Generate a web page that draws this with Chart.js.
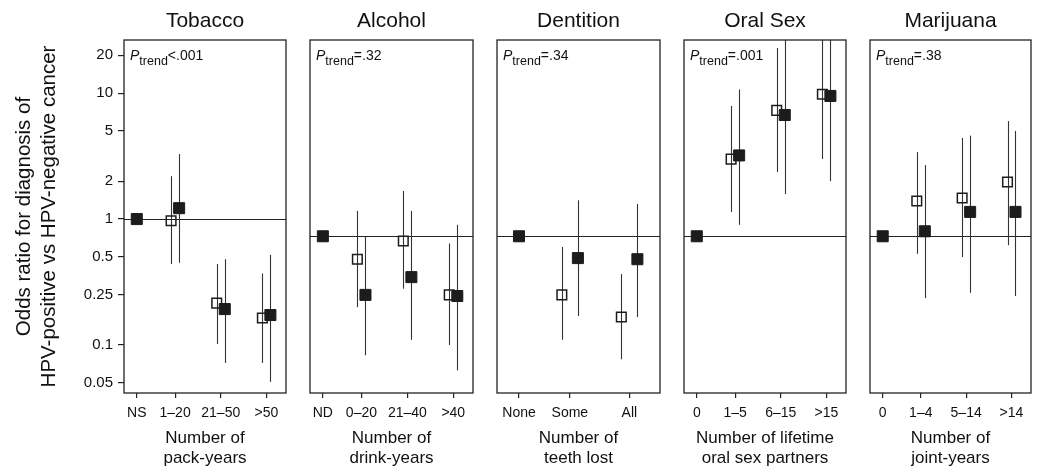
<!DOCTYPE html>
<html>
<head>
<meta charset="utf-8">
<script src="https://cdn.jsdelivr.net/npm/chart.js@4.4.1/dist/chart.umd.min.js"></script>
<style>
  html, body { margin: 0; padding: 0; background: #fff; }
  #wrap { position: relative; width: 1039px; height: 468px; overflow: hidden; }
  .panel { position: absolute; top: 0; height: 468px; }
</style>
</head>
<body>
<div id="wrap"></div>
<script>
// ---- data ----
const titles = ['Tobacco', 'Alcohol', 'Dentition', 'Oral Sex', 'Marijuana'];
const pTrend = ['<.001', '=.32', '=.34', '=.001', '=.38'];
const xTitles = [
  ['Number of', 'pack-years'],
  ['Number of', 'drink-years'],
  ['Number of', 'teeth lost'],
  ['Number of lifetime', 'oral sex partners'],
  ['Number of', 'joint-years']
];
const yTitle = ['Odds ratio for diagnosis of', 'HPV-positive vs HPV-negative cancer'];
const yTicks = [0.05, 0.1, 0.25, 0.5, 1, 2, 5, 10, 20];
const refLine = [1, 0.73, 0.73, 0.73, 0.73];

const tobaccoCats = ['NS', '1–20', '21–50', '>50'];
const tobaccoOpen = [null, 0.97, 0.215, 0.164];
const tobaccoOpenLo = [null, 0.44, 0.102, 0.072];
const tobaccoOpenHi = [null, 2.19, 0.44, 0.37];
const tobaccoFilled = [1, 1.22, 0.193, 0.173];
const tobaccoFilledLo = [null, 0.45, 0.072, 0.051];
const tobaccoFilledHi = [null, 3.28, 0.48, 0.52];

const alcoholCats = ['ND', '0–20', '21–40', '>40'];
const alcoholOpen = [null, 0.48, 0.67, 0.25];
const alcoholOpenLo = [null, 0.20, 0.28, 0.10];
const alcoholOpenHi = [null, 1.16, 1.67, 0.64];
const alcoholFilled = [0.73, 0.25, 0.346, 0.245];
const alcoholFilledLo = [null, 0.083, 0.11, 0.063];
const alcoholFilledHi = [null, 0.72, 1.16, 0.9];

const dentitionCats = ['None', 'Some', 'All'];
const dentitionOpen = [null, 0.25, 0.167];
const dentitionOpenLo = [null, 0.11, 0.077];
const dentitionOpenHi = [null, 0.6, 0.366];
const dentitionFilled = [0.73, 0.49, 0.48];
const dentitionFilledLo = [null, 0.17, 0.167];
const dentitionFilledHi = [null, 1.41, 1.32];

const oralCats = ['0', '1–5', '6–15', '>15'];
const oralOpen = [null, 2.99, 7.3, 9.8];
const oralOpenLo = [null, 1.14, 2.36, 3.0];
const oralOpenHi = [null, 7.9, 22.8, 30];
const oralFilled = [0.73, 3.2, 6.7, 9.5];
const oralFilledLo = [null, 0.9, 1.58, 2.0];
const oralFilledHi = [null, 10.7, 30, 30];

const marijuanaCats = ['0', '1–4', '5–14', '>14'];
const marijuanaOpen = [null, 1.39, 1.47, 1.97];
const marijuanaOpenLo = [null, 0.53, 0.5, 0.62];
const marijuanaOpenHi = [null, 3.4, 4.4, 6.0];
const marijuanaFilled = [0.73, 0.8, 1.14, 1.14];
const marijuanaFilledLo = [null, 0.236, 0.26, 0.245];
const marijuanaFilledHi = [null, 2.68, 4.6, 5.0];

// ---- layout ----
const boxLeft = [124, 310, 497, 684, 870];
const boxRight = [286, 473, 660, 846, 1031];
const slots4 = [0, 0.84, 1.84, 2.84];
const slots3 = [0, 0.855, 1.855];

const FONT = '"Liberation Sans", Arial, sans-serif';
Chart.defaults.font.family = FONT;
Chart.defaults.color = '#111';

const panels = [
  [tobaccoCats, tobaccoOpen, tobaccoOpenLo, tobaccoOpenHi, tobaccoFilled, tobaccoFilledLo, tobaccoFilledHi],
  [alcoholCats, alcoholOpen, alcoholOpenLo, alcoholOpenHi, alcoholFilled, alcoholFilledLo, alcoholFilledHi],
  [dentitionCats, dentitionOpen, dentitionOpenLo, dentitionOpenHi, dentitionFilled, dentitionFilledLo, dentitionFilledHi],
  [oralCats, oralOpen, oralOpenLo, oralOpenHi, oralFilled, oralFilledLo, oralFilledHi],
  [marijuanaCats, marijuanaOpen, marijuanaOpenLo, marijuanaOpenHi, marijuanaFilled, marijuanaFilledLo, marijuanaFilledHi]
];

// error bars, reference line, box and P-trend label
const panelDecor = {
  id: 'panelDecor',
  beforeDatasetsDraw(chart, args, opts) {
    const {ctx, chartArea: {left, right, top, bottom}, scales: {x, y}} = chart;
    ctx.save();
    ctx.beginPath();
    ctx.rect(left, top, right - left, bottom - top);
    ctx.clip();
    ctx.strokeStyle = '#222';
    ctx.lineWidth = 1.2;
    const yr = Math.round(y.getPixelForValue(opts.ref)) + 0.5;
    ctx.beginPath();
    ctx.moveTo(left, yr);
    ctx.lineTo(right, yr);
    ctx.stroke();

    ctx.strokeStyle = '#333';
    ctx.lineWidth = 1.1;
    chart.data.datasets.forEach(ds => {
      ds.data.forEach(pt => {
        if (pt.lo == null) return;
        const px = Math.round(x.getPixelForValue(pt.x)) + 0.5;
        ctx.beginPath();
        ctx.moveTo(px, y.getPixelForValue(pt.hi));
        ctx.lineTo(px, y.getPixelForValue(pt.lo));
        ctx.stroke();
      });
    });
    ctx.restore();
  },
  afterDraw(chart, args, opts) {
    const {ctx, chartArea: {left, right, top, bottom}} = chart;
    ctx.save();
    ctx.strokeStyle = '#222';
    ctx.lineWidth = 1.3;
    ctx.strokeRect(left, top, right - left, bottom - top);

    ctx.fillStyle = '#111';
    ctx.textBaseline = 'alphabetic';
    ctx.textAlign = 'left';
    let tx = left + 6;
    const ty = top + 20;
    ctx.font = 'italic 14px ' + FONT;
    ctx.fillText('P', tx, ty);
    tx += ctx.measureText('P').width;
    ctx.font = '12.5px ' + FONT;
    ctx.fillText('trend', tx, ty + 5);
    tx += ctx.measureText('trend').width;
    ctx.font = '14px ' + FONT;
    ctx.fillText(opts.p, tx, ty);
    ctx.restore();
  }
};

const wrap = document.getElementById('wrap');

panels.forEach((p, i) => {
  const [cats, open, openLo, openHi, filled, filledLo, filledHi] = p;
  const slots = cats.length === 3 ? slots3 : slots4;
  const xr = cats.length === 3 ? [-0.37, 2.37] : [-0.28, 3.27];
  const shift = cats.length === 3 ? 0.135 : 0.088;

  const openPts = [];
  const filledPts = [];
  cats.forEach((c, k) => {
    if (open[k] != null) openPts.push({x: slots[k] - shift, y: open[k], lo: openLo[k], hi: openHi[k]});
    if (filled[k] != null) filledPts.push({x: k === 0 ? slots[k] : slots[k] + shift, y: filled[k], lo: filledLo[k], hi: filledHi[k]});
  });

  const cLeft = i === 0 ? 0 : boxLeft[i] - 2;
  const div = document.createElement('div');
  div.className = 'panel';
  div.style.left = cLeft + 'px';
  div.style.width = (boxRight[i] + 2 - cLeft) + 'px';
  const canvas = document.createElement('canvas');
  div.appendChild(canvas);
  wrap.appendChild(div);

  new Chart(canvas, {
    type: 'scatter',
    data: {
      datasets: [
        {
          label: 'open',
          data: openPts,
          pointStyle: 'rect',
          pointRadius: 6.8,
          backgroundColor: 'rgba(0,0,0,0)',
          borderColor: '#1c1c1c',
          borderWidth: 1.5
        },
        {
          label: 'filled',
          data: filledPts,
          pointStyle: 'rect',
          pointRadius: 7.8,
          backgroundColor: '#1c1c1c',
          borderColor: '#1c1c1c',
          borderWidth: 1
        }
      ]
    },
    options: {
      responsive: true,
      maintainAspectRatio: false,
      animation: false,
      layout: { autoPadding: false, padding: { left: i === 0 ? 0 : 2, right: 2, top: 0, bottom: 0 } },
      plugins: {
        legend: { display: false },
        tooltip: { enabled: false },
        title: {
          display: true,
          text: titles[i],
          fullSize: false,
          font: { size: 21, weight: 'normal' },
          color: '#111',
          padding: { top: 9, bottom: 5.8 }
        },
        panelDecor: { ref: refLine[i], p: pTrend[i] }
      },
      scales: {
        x: {
          type: 'linear',
          min: xr[0],
          max: xr[1],
          afterBuildTicks: s => { s.ticks = slots.map(v => ({value: v})); },
          afterFit: s => { s.height = 75; s.paddingLeft = 0; s.paddingRight = 0; },
          ticks: { callback: (v, k) => cats[k], font: { size: 14 }, color: '#111', padding: 7, maxRotation: 0, autoSkip: false },
          grid: { display: true, drawOnChartArea: false, drawTicks: true, tickLength: 5, color: '#222', lineWidth: 1.2 },
          border: { display: false },
          title: { display: true, text: xTitles[i], font: { size: 17, lineHeight: 1.18 }, color: '#111', padding: { top: 0, bottom: 0 } }
        },
        y: {
          type: 'logarithmic',
          display: i === 0,
          min: 0.0416,
          max: 26.4,
          afterBuildTicks: s => { s.ticks = yTicks.map(v => ({value: v})); },
          afterFit: s => { s.width = i === 0 ? 124 : 0; s.paddingTop = 0; s.paddingBottom = 0; },
          ticks: { callback: v => String(v), font: { size: 15 }, color: '#111', padding: 5, autoSkip: false },
          grid: { display: true, drawOnChartArea: false, drawTicks: true, tickLength: 6, color: '#222', lineWidth: 1.2 },
          border: { display: false },
          title: { display: true, text: yTitle, font: { size: 20.5, lineHeight: 1.22 }, color: '#111', padding: { top: 12, bottom: 0 } }
        }
      }
    },
    plugins: [panelDecor]
  });
});
</script>
</body>
</html>
